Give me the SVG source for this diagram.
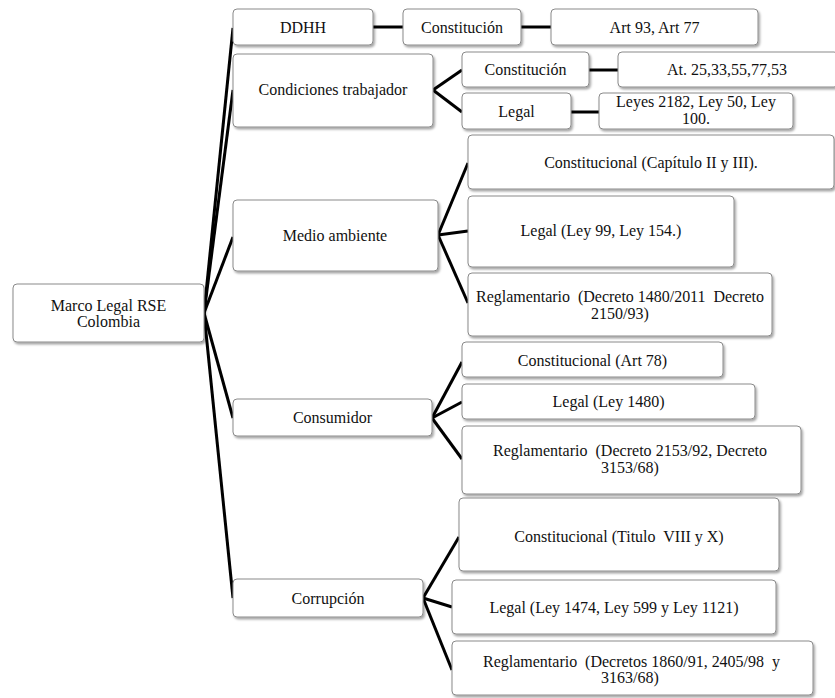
<svg xmlns="http://www.w3.org/2000/svg" width="835" height="698" viewBox="0 0 835 698">
<style>
.box{fill:#fff;stroke:#8a8a8a;stroke-width:1;filter:url(#sh)}
.t{font-family:"Liberation Serif","Times New Roman",serif;font-size:16px;fill:#111;text-anchor:middle}
.s{text-anchor:start}
.c line{stroke:#000;stroke-width:3;stroke-linecap:butt}
</style>
<defs>
<filter id="sh" x="-10%" y="-20%" width="120%" height="150%">
<feDropShadow dx="1.5" dy="2" stdDeviation="1.2" flood-color="#000" flood-opacity="0.35"/>
</filter>
</defs>
<rect width="835" height="698" fill="#fff"/>
<g class="c" id="connectors">
<line x1="204" y1="313" x2="233" y2="28"/>
<line x1="204" y1="313" x2="233" y2="90"/>
<line x1="204" y1="313" x2="233" y2="237"/>
<line x1="204" y1="313" x2="233" y2="418"/>
<line x1="204" y1="313" x2="233" y2="598"/>
<line x1="373" y1="27" x2="403" y2="27"/>
<line x1="521" y1="27" x2="551" y2="27"/>
<line x1="433" y1="90" x2="462" y2="70"/>
<line x1="433" y1="90" x2="462" y2="112"/>
<line x1="589" y1="70" x2="618" y2="70"/>
<line x1="571" y1="112" x2="599" y2="112"/>
<line x1="438" y1="235" x2="468" y2="163"/>
<line x1="438" y1="235" x2="468" y2="231"/>
<line x1="438" y1="235" x2="468" y2="303"/>
<line x1="432" y1="418" x2="462" y2="362"/>
<line x1="432" y1="418" x2="462" y2="402"/>
<line x1="432" y1="418" x2="462" y2="459"/>
<line x1="423" y1="598" x2="459" y2="537"/>
<line x1="423" y1="598" x2="452" y2="607"/>
<line x1="423" y1="598" x2="452" y2="670"/>
</g>
<g id="root"><rect class="box" x="13" y="284" width="191" height="58" rx="4"/>
<text class="t" x="108.5" y="311">Marco Legal RSE</text><text class="t" x="108.5" y="327">Colombia</text></g>
<g id="ddhh"><rect class="box" x="233" y="9" width="140" height="36" rx="4"/><text class="t" x="303" y="33">DDHH</text></g>
<g id="ddhh-const"><rect class="box" x="403" y="9" width="118" height="36" rx="4"/><text class="t" x="462" y="33">Constitución</text></g>
<g id="ddhh-art"><rect class="box" x="551" y="9" width="207" height="36" rx="4"/><text class="t" x="654.5" y="33">Art 93, Art 77</text></g>
<g id="cond"><rect class="box" x="233" y="54" width="200" height="73" rx="4"/><text class="t" x="333" y="95">Condiciones trabajador</text></g>
<g id="cond-const"><rect class="box" x="462" y="52" width="127" height="35" rx="4"/><text class="t" x="525.5" y="75">Constitución</text></g>
<g id="cond-at"><rect class="box" x="618" y="52" width="220" height="35" rx="4"/><text class="t" x="727" y="75">At. 25,33,55,77,53</text></g>
<g id="cond-legal"><rect class="box" x="462" y="93" width="109" height="36" rx="4"/><text class="t" x="516.5" y="117">Legal</text></g>
<g id="cond-leyes"><rect class="box" x="599" y="93" width="194" height="36" rx="4"/>
<text class="t" x="696" y="107">Leyes 2182, Ley 50, Ley</text><text class="t" x="696" y="124">100.</text></g>
<g id="medio"><rect class="box" x="233" y="200" width="205" height="71" rx="4"/><text class="t" x="335" y="241">Medio ambiente</text></g>
<g id="medio-const"><rect class="box" x="468" y="135" width="366" height="54" rx="4"/><text class="t" x="651" y="168">Constitucional (Capítulo II y III).</text></g>
<g id="medio-legal"><rect class="box" x="468" y="196" width="266" height="71" rx="4"/><text class="t" x="601" y="236">Legal (Ley 99, Ley 154.)</text></g>
<g id="medio-regl"><rect class="box" x="468" y="273" width="304" height="63" rx="4"/>
<text class="t s" x="476" y="302" xml:space="preserve" textLength="288" lengthAdjust="spacing">Reglamentario  (Decreto 1480/2011  Decreto</text>
<text class="t" x="620" y="319">2150/93)</text></g>
<g id="cons"><rect class="box" x="233" y="399" width="199" height="37" rx="4"/><text class="t" x="332.5" y="423">Consumidor</text></g>
<g id="cons-const"><rect class="box" x="462" y="342" width="261" height="35" rx="4"/><text class="t" x="592.5" y="366">Constitucional (Art 78)</text></g>
<g id="cons-legal"><rect class="box" x="462" y="384" width="293" height="35" rx="4"/><text class="t" x="608.5" y="407">Legal (Ley 1480)</text></g>
<g id="cons-regl"><rect class="box" x="462" y="426" width="339" height="68" rx="4"/>
<text class="t s" x="493" y="456" xml:space="preserve" textLength="274" lengthAdjust="spacing">Reglamentario  (Decreto 2153/92, Decreto</text>
<text class="t" x="630" y="473">3153/68)</text></g>
<g id="corr"><rect class="box" x="233" y="579" width="190" height="38" rx="4"/><text class="t" x="328" y="604">Corrupción</text></g>
<g id="corr-const"><rect class="box" x="459" y="498" width="320" height="73" rx="4"/><text class="t" x="619" y="542" xml:space="preserve">Constitucional (Titulo  VIII y X)</text></g>
<g id="corr-legal"><rect class="box" x="452" y="580" width="324" height="54" rx="4"/><text class="t" x="614" y="613">Legal (Ley 1474, Ley 599 y Ley 1121)</text></g>
<g id="corr-regl"><rect class="box" x="452" y="641" width="361" height="54" rx="4"/>
<text class="t s" x="483" y="667" xml:space="preserve" textLength="297" lengthAdjust="spacing">Reglamentario  (Decretos 1860/91, 2405/98  y</text>
<text class="t" x="630" y="683">3163/68)</text></g>
</svg>
